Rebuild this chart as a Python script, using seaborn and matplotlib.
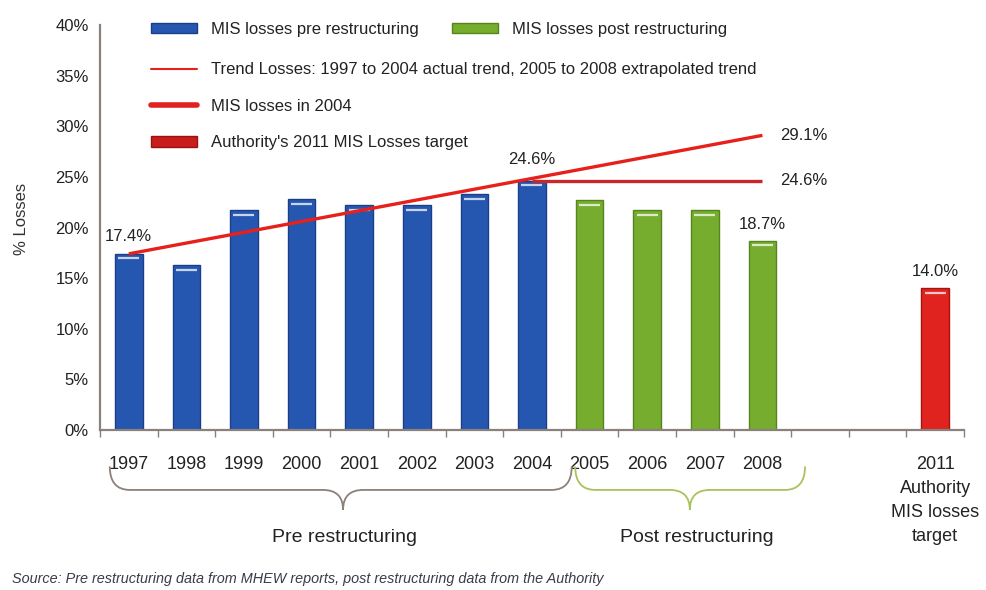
import matplotlib
matplotlib.use("Agg")
import matplotlib.pyplot as plt
import matplotlib.transforms as mtransforms
from matplotlib.path import Path
from matplotlib.patches import PathPatch, Patch
from matplotlib.lines import Line2D
from matplotlib import font_manager
import numpy as np
import pandas as pd
import seaborn as sns

# ---- data ----
years_all = ["1997", "1998", "1999", "2000", "2001", "2002", "2003", "2004",
             "2005", "2006", "2007", "2008", "2009", "2010", "2011"]
pre_years = ["1997", "1998", "1999", "2000", "2001", "2002", "2003", "2004"]
pre_losses = [17.4, 16.3, 21.7, 22.8, 22.2, 22.2, 23.3, 24.6]
post_years = ["2005", "2006", "2007", "2008"]
post_losses = [22.7, 21.7, 21.7, 18.7]
target_year = ["2011"]
target_loss = [14.0]

trend_years = ["1997", "2008"]
trend_values = [17.4, 29.1]
level_2004_years = ["2004", "2008"]
level_2004_values = [24.6, 24.6]

tick_labels = ["1997", "1998", "1999", "2000", "2001", "2002", "2003", "2004",
               "2005", "2006", "2007", "2008", "", "",
               "2011\nAuthority\nMIS losses\ntarget"]
y_ticks = [0, 5, 10, 15, 20, 25, 30, 35, 40]

phase_names = ["MIS losses pre restructuring", "MIS losses post restructuring",
               "Authority's 2011 MIS Losses target"]
phase_colors = ["#2557b1", "#76ad2f", "#e1231f"]
phase_edges = ["#1b3f86", "#55851c", "#a8120f"]

df = pd.DataFrame({
    "year": pre_years + post_years + target_year,
    "loss": pre_losses + post_losses + target_loss,
    "phase": [phase_names[0]] * len(pre_years) + [phase_names[1]] * len(post_years)
             + [phase_names[2]] * len(target_year),
})

sns.set_theme(style="white")
plt.rcParams["font.family"] = ["Liberation Sans", "DejaVu Sans"]

fig = plt.figure(figsize=(9.87, 5.90), dpi=100)
ax = fig.add_axes([0.1013, 0.2712, 0.8754, 0.6864])

sns.barplot(data=df, x="year", y="loss", hue="phase", order=years_all,
            hue_order=phase_names, palette=phase_colors, dodge=False,
            width=0.48, saturation=1, legend=False, ax=ax)

# edge and top highlight for each bar
hex_colors = [matplotlib.colors.to_hex(c) for c in phase_colors]
for patch in ax.patches:
    h = patch.get_height()
    if not np.isfinite(h) or h <= 0:
        continue
    idx = hex_colors.index(matplotlib.colors.to_hex(patch.get_facecolor()))
    patch.set_edgecolor(phase_edges[idx])
    patch.set_linewidth(1.0)
    x0 = patch.get_x()
    w = patch.get_width()
    ax.plot([x0 + w * 0.12, x0 + w * 0.88], [h - 0.45, h - 0.45],
            color="white", lw=1.6, alpha=0.75, solid_capstyle="butt", zorder=3)

pos = {y: i for i, y in enumerate(years_all)}

# trend line and 2004 level
ax.plot([pos[y] for y in trend_years], trend_values, color="#e8201c", lw=2.4,
        solid_capstyle="butt", zorder=4)
ax.plot([pos[y] for y in level_2004_years], level_2004_values, color="#c9282a",
        lw=2.4, solid_capstyle="butt", zorder=4)

lab_kw = dict(fontsize=12, color="#222222")
ax.text(pos["1997"], pre_losses[0] + 1.0, f"{pre_losses[0]:.1f}%", ha="center", va="bottom", **lab_kw)
ax.text(pos["2004"], pre_losses[-1] + 1.4, f"{pre_losses[-1]:.1f}%", ha="center", va="bottom", **lab_kw)
ax.text(pos["2008"], post_losses[-1] + 0.9, f"{post_losses[-1]:.1f}%", ha="center", va="bottom", **lab_kw)
ax.text(pos["2011"], target_loss[0] + 0.9, f"{target_loss[0]:.1f}%", ha="center", va="bottom", **lab_kw)
ax.text(pos["2008"] + 0.3, trend_values[-1], f"{trend_values[-1]:.1f}%", ha="left", va="center", **lab_kw)
ax.text(pos["2008"] + 0.3, level_2004_values[-1], f"{level_2004_values[-1]:.1f}%", ha="left", va="center", **lab_kw)

# axes styling
ax.set_xlim(-0.5, len(years_all) - 0.5)
ax.set_ylim(0, 40)
ax.set_yticks(y_ticks)
ax.set_yticklabels([f"{v}%" for v in y_ticks])
ax.tick_params(axis="y", length=0, pad=8, labelsize=12, labelcolor="#222222")

ax.set_xticks(np.arange(len(years_all) + 1) - 0.5)
ax.set_xticklabels([])
ax.set_xticks(np.arange(len(years_all)), minor=True)
ax.set_xticklabels(tick_labels, minor=True)
ax.tick_params(axis="x", which="major", direction="out", length=5, width=1,
               color="#8a807c", bottom=True)
ax.tick_params(axis="x", which="minor", length=0, pad=19, labelsize=13,
               labelcolor="#222222")
for lbl in ax.get_xticklabels(minor=True):
    lbl.set_linespacing(1.52)
    lbl.set_va("top")

ax.set_xlabel("")
ax.set_ylabel("% Losses", fontsize=12, color="#333333")
ax.yaxis.set_label_coords(-0.082, 0.52)

for s in ["top", "right"]:
    ax.spines[s].set_visible(False)
for s in ["left", "bottom"]:
    ax.spines[s].set_color("#8a807c")
    ax.spines[s].set_linewidth(1.6)
ax.grid(False)

# curly braces under the year labels
blend = mtransforms.blended_transform_factory(ax.transData, ax.transAxes)

def brace(x0, x1, xtip, color):
    ytop, ymid, ybot = -0.09, -0.148, -0.197
    d = 0.35
    verts = [(x0, ytop), (x0, ymid), (x0 + d, ymid),
             (xtip - d, ymid), (xtip, ymid), (xtip, ybot),
             (xtip, ymid), (xtip + d, ymid),
             (x1 - d, ymid), (x1, ymid), (x1, ytop)]
    codes = [Path.MOVETO, Path.CURVE3, Path.CURVE3,
             Path.LINETO, Path.CURVE3, Path.CURVE3,
             Path.CURVE3, Path.CURVE3,
             Path.LINETO, Path.CURVE3, Path.CURVE3]
    ax.add_patch(PathPatch(Path(verts, codes), fill=False, edgecolor=color,
                           lw=1.3, transform=blend, clip_on=False))

brace(-0.33, 7.69, 3.72, "#8c8078")
brace(7.75, 11.74, 9.74, "#a9c25a")

ax.text(3.75, -0.265, "Pre restructuring", transform=blend, ha="center",
        va="center", fontsize=14, color="#222222")
ax.text(9.86, -0.265, "Post restructuring", transform=blend, ha="center",
        va="center", fontsize=14, color="#222222")

# legend
h_pre = Patch(facecolor=phase_colors[0], edgecolor=phase_edges[0])
h_post = Patch(facecolor=phase_colors[1], edgecolor=phase_edges[1])
h_trend = Line2D([], [], color="#e8201c", lw=1.5)
h_2004 = Line2D([], [], color="#e1231f", lw=4)
h_target = Patch(facecolor="#c81d1a", edgecolor="#9a1210")

leg_kw = dict(frameon=False, fontsize=12, handlelength=2.8, handleheight=0.55,
              handletextpad=0.8, borderaxespad=0, labelcolor="#222222")
leg1 = ax.legend([h_pre, h_post], [phase_names[0], phase_names[1]], ncol=2,
                 columnspacing=2.0, loc="upper left",
                 bbox_to_anchor=(0.051, 1.025), **leg_kw)
ax.add_artist(leg1)
ax.legend([h_trend, h_2004, h_target],
          ["Trend Losses: 1997 to 2004 actual trend, 2005 to 2008 extrapolated trend",
           "MIS losses in 2004", "Authority's 2011 MIS Losses target"],
          loc="upper left", bbox_to_anchor=(0.051, 0.925), labelspacing=1.3,
          **leg_kw)

# source note in a condensed italic face when available
names = {f.name for f in font_manager.fontManager.ttflist}
if "Liberation Sans Narrow" in names:
    src_family, src_size = ["Liberation Sans Narrow", "DejaVu Sans"], 12.5
else:
    src_family, src_size = ["Liberation Sans", "DejaVu Sans"], 10.4
fig.text(0.012, 0.006, "Source: Pre restructuring data from MHEW reports, post restructuring data from the Authority",
         fontsize=src_size, family=src_family, style="italic", color="#3a3a4a",
         ha="left", va="bottom")

fig.savefig("out.png", dpi=100, facecolor="white")
